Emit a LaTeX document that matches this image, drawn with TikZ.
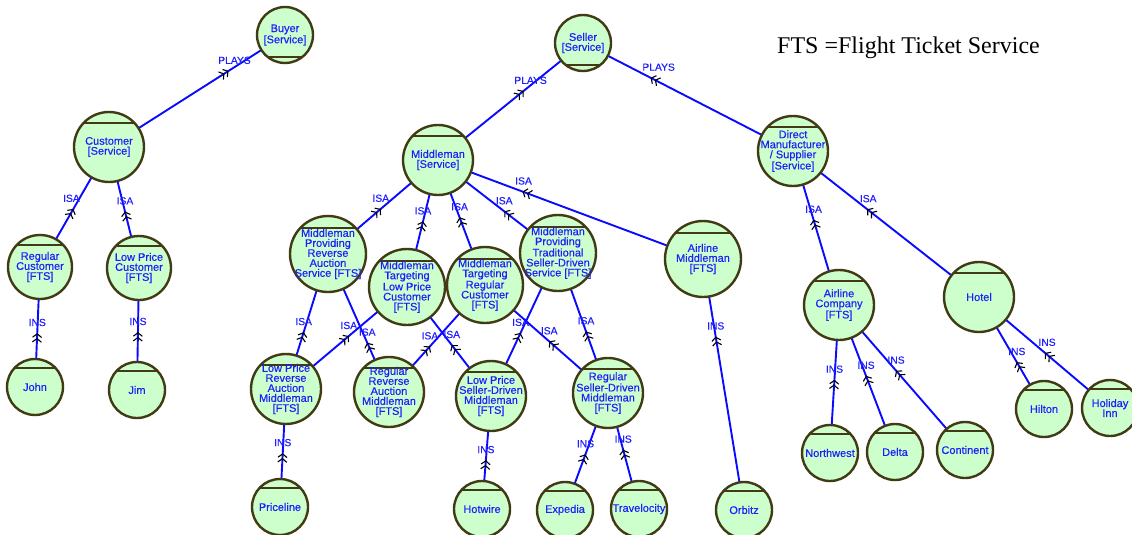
\documentclass[tikz,border=0pt]{standalone}
\usepackage{fontspec}
\setmainfont{Liberation Sans}
\newfontfamily\entfont[FakeBold=0.3]{Liberation Sans}
\newfontfamily\lblfont[FakeBold=0.2]{Liberation Sans}
\newfontfamily\tnrfont{Liberation Serif}
\usetikzlibrary{calc,decorations.markings,arrows.meta}
\definecolor{entfill}{RGB}{204,255,204}
\definecolor{entborder}{RGB}{66,58,20}
\definecolor{relblue}{RGB}{10,10,255}
\definecolor{enttext}{RGB}{30,30,255}
\pgfdeclarelayer{bg}
\pgfsetlayers{bg,main}
\tikzset{
  entbase/.style={circle, draw=entborder, line width=2.4pt, fill=entfill, minimum size=#1*2pt, inner sep=0pt, outer sep=0pt},
  ent/.style={entbase=#1, path picture={\draw[entborder,line width=2pt] ($(path picture bounding box.north west)!0.155!(path picture bounding box.south west)$) -- ($(path picture bounding box.north east)!0.155!(path picture bounding box.south east)$);}},
  entb/.style={entbase=#1, path picture={\draw[entborder,line width=2pt] ($(path picture bounding box.north west)!0.9!(path picture bounding box.south west)$) -- ($(path picture bounding box.north east)!0.9!(path picture bounding box.south east)$);}},
  etext/.style={align=center, text=enttext, font=\entfont\fontsize{11}{10}\selectfont, inner sep=0pt},
  edge/.style={draw=relblue, line width=1.9pt},
  mk/.style={postaction={decorate, decoration={markings, mark=at position #1 with {\arrow[black,line width=1.1pt]{Straight Barb[length=3.5pt,width=9pt] Straight Barb[length=3.5pt,width=9pt]}}}}},
  lbl/.style={text=enttext, font=\lblfont\fontsize{10.3}{10}\selectfont, inner sep=0pt, anchor=south, yshift=6pt},
  ftsstyle/.style={font=\tnrfont\fontsize{24}{24}\selectfont, anchor=base, inner sep=0pt, text=black},
}
\begin{document}
\begin{tikzpicture}[x=1pt,y=-1pt]
\useasboundingbox (0,0) rectangle (1132,535);
% entities
\node[entb=28, label={[etext]center:{Buyer\\{[Service]}}}] (buyer) at (285,35) {};
\node[ent=35, label={[etext]center:{Customer\\{[Service]}}}] (customer) at (109,147) {};
\node[entb=28, label={[etext]center:{Seller\\{[Service]}}}] (seller) at (583,43) {};
\node[ent=35, label={[etext]center:{Middleman\\{[Service]}}}] (middleman) at (438,160) {};
\node[ent=35, label={[etext]center:{Direct\\Manufacturer\\/ Supplier\\{[Service]}}}] (direct) at (793,151) {};
\node[ent=32, label={[etext]center:{Regular\\Customer\\{[FTS]}}}] (regcust) at (40,267) {};
\node[ent=32, label={[etext]center:{Low Price\\Customer\\{[FTS]}}}] (lpcust) at (139,268) {};
\node[ent=28, label={[etext]center:{John}}] (john) at (35,387) {};
\node[ent=28, label={[etext]center:{Jim}}] (jim) at (137,390) {};
\node[ent=38, label={[etext]center:{Middleman\\Providing\\Reverse\\Auction\\Service [FTS]}}] (mpra) at (328,254) {};
\node[ent=38, label={[etext]center:{Middleman\\Targeting\\Low Price\\Customer\\{[FTS]}}}] (mtlpc) at (407,287) {};
\node[ent=38, label={[etext]center:{Middleman\\Targeting\\Regular\\Customer\\{[FTS]}}}] (mtrc) at (485,285) {};
\node[ent=38, label={[etext]center:{Middleman\\Providing\\Traditional\\Seller-Driven\\Service [FTS]}}] (mptsd) at (558,253) {};
\node[ent=38, label={[etext]center:{Airline\\Middleman\\{[FTS]}}}] (airmid) at (703,259) {};
\node[ent=35, label={[etext]center:{Low Price\\Reverse\\Auction\\Middleman\\{[FTS]}}}] (lpram) at (286,389) {};
\node[ent=35, label={[etext]center:{Regular\\Reverse\\Auction\\Middleman\\{[FTS]}}}] (rram) at (389,392) {};
\node[ent=35, label={[etext]center:{Low Price\\Seller-Driven\\Middleman\\{[FTS]}}}] (lpsdm) at (491,396) {};
\node[ent=35, label={[etext]center:{Regular\\Seller-Driven\\Middleman\\{[FTS]}}}] (rsdm) at (608,393) {};
\node[ent=28, label={[etext]center:{Priceline}}] (priceline) at (280,507) {};
\node[ent=28, label={[etext]center:{Hotwire}}] (hotwire) at (482,509) {};
\node[ent=28, label={[etext]center:{Expedia}}] (expedia) at (565,510) {};
\node[ent=28, label={[etext]center:{Travelocity}}] (travelocity) at (639,509) {};
\node[ent=28, label={[etext]center:{Orbitz}}] (orbitz) at (744,510) {};
\node[ent=35, label={[etext]center:{Airline\\Company\\{[FTS]}}}] (aircomp) at (839,305) {};
\node[ent=35, label={[etext]center:{Hotel}}] (hotel) at (979,297) {};
\node[ent=28, label={[etext]center:{Northwest}}] (northwest) at (830,453) {};
\node[ent=28, label={[etext]center:{Delta}}] (delta) at (895,452) {};
\node[ent=28, label={[etext]center:{Continent}}] (continent) at (965,450) {};
\node[ent=28, label={[etext]center:{Hilton}}] (hilton) at (1044,409) {};
\node[ent=28, label={[etext]center:{Holiday\\Inn}}] (holiday) at (1110,408) {};
\node[ftsstyle] (fts) at (908.5,54) {FTS =Flight Ticket Service};
% relations
\begin{pgfonlayer}{bg}
\draw[edge, mk=0.679] (customer.center) -- node[pos=0.679, lbl, xshift=6pt] {PLAYS} (buyer.center);
\draw[edge, mk=0.590] (middleman.center) -- node[pos=0.590, lbl, xshift=7pt] {PLAYS} (seller.center);
\draw[edge, mk=0.678] (direct.center) -- node[pos=0.678, lbl, xshift=8pt] {PLAYS} (seller.center);
\draw[edge, mk=0.484] (regcust.center) -- node[pos=0.484, lbl, xshift=-2pt] {ISA} (customer.center);
\draw[edge, mk=0.467] (lpcust.center) -- node[pos=0.467, lbl] {ISA} (customer.center);
\draw[edge, mk=0.449] (john.center) -- node[pos=0.449, lbl] {INS} (regcust.center);
\draw[edge, mk=0.475] (jim.center) -- node[pos=0.475, lbl] {INS} (lpcust.center);
\draw[edge, mk=0.480] (mpra.center) -- node[pos=0.480, lbl] {ISA} (middleman.center);
\draw[edge, mk=0.516] (mtlpc.center) -- node[pos=0.516, lbl] {ISA} (middleman.center);
\draw[edge, mk=0.541] (mtrc.center) -- node[pos=0.541, lbl] {ISA} (middleman.center);
\draw[edge, mk=0.448] (mptsd.center) -- node[pos=0.448, lbl] {ISA} (middleman.center);
\draw[edge, mk=0.681] (airmid.center) -- node[pos=0.681, lbl, xshift=1pt] {ISA} (middleman.center);
\draw[edge, mk=0.421] (lpram.center) -- node[pos=0.421, lbl] {ISA} (mpra.center);
\draw[edge, mk=0.519] (lpram.center) -- node[pos=0.519, lbl] {ISA} (mtlpc.center);
\draw[edge, mk=0.357] (rram.center) -- node[pos=0.357, lbl] {ISA} (mpra.center);
\draw[edge, mk=0.426] (rram.center) -- node[pos=0.426, lbl] {ISA} (mtrc.center);
\draw[edge, mk=0.467] (lpsdm.center) -- node[pos=0.467, lbl] {ISA} (mtlpc.center);
\draw[edge, mk=0.441] (lpsdm.center) -- node[pos=0.441, lbl] {ISA} (mptsd.center);
\draw[edge, mk=0.478] (rsdm.center) -- node[pos=0.478, lbl] {ISA} (mtrc.center);
\draw[edge, mk=0.440] (rsdm.center) -- node[pos=0.440, lbl] {ISA} (mptsd.center);
\draw[edge, mk=0.456] (priceline.center) -- node[pos=0.456, lbl] {INS} (lpram.center);
\draw[edge, mk=0.432] (hotwire.center) -- node[pos=0.432, lbl] {INS} (lpsdm.center);
\draw[edge, mk=0.476] (expedia.center) -- node[pos=0.476, lbl] {INS} (rsdm.center);
\draw[edge, mk=0.511] (travelocity.center) -- node[pos=0.511, lbl] {INS} (rsdm.center);
\draw[edge, mk=0.691] (orbitz.center) -- node[pos=0.691, lbl] {INS} (airmid.center);
\draw[edge, mk=0.553] (aircomp.center) -- node[pos=0.553, lbl] {ISA} (direct.center);
\draw[edge, mk=0.601] (hotel.center) -- node[pos=0.601, lbl, xshift=1pt] {ISA} (direct.center);
\draw[edge, mk=0.495] (northwest.center) -- node[pos=0.495, lbl] {INS} (aircomp.center);
\draw[edge, mk=0.518] (delta.center) -- node[pos=0.518, lbl] {INS} (aircomp.center);
\draw[edge, mk=0.547] (continent.center) -- node[pos=0.547, lbl] {INS} (aircomp.center);
\draw[edge, mk=0.419] (hilton.center) -- node[pos=0.419, lbl] {INS} (hotel.center);
\draw[edge, mk=0.496] (holiday.center) -- node[pos=0.496, lbl, xshift=2pt] {INS} (hotel.center);
\end{pgfonlayer}
\end{tikzpicture}
\end{document}
